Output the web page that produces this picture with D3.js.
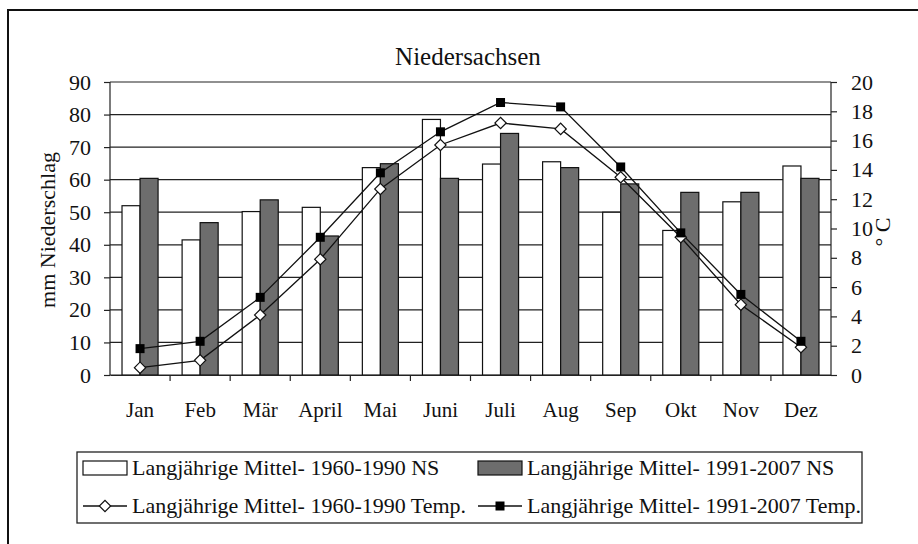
<!DOCTYPE html>
<html>
<head>
<meta charset="utf-8">
<script src="https://cdn.jsdelivr.net/npm/d3@7"></script>
<style>
  body { margin: 0; background: #fff; }
</style>
</head>
<body>
<script>
// months on the x axis
var months = ["Jan", "Feb", "Mär", "April", "Mai", "Juni", "Juli", "Aug", "Sep", "Okt", "Nov", "Dez"];

// precipitation (mm) per month
var rainOld = [52.0, 41.5, 50.2, 51.5, 63.7, 78.5, 64.8, 65.5, 50.0, 44.4, 53.2, 64.2];
var rainNew = [60.4, 46.8, 53.8, 42.7, 64.9, 60.4, 74.2, 63.7, 58.7, 56.1, 56.1, 60.4];

// temperature (°C) per month
var tempOld = [0.5, 1.0, 4.1, 7.9, 12.7, 15.7, 17.2, 16.8, 13.5, 9.4, 4.8, 1.9];
var tempNew = [1.8, 2.3, 5.3, 9.4, 13.8, 16.6, 18.6, 18.3, 14.2, 9.7, 5.5, 2.3];

// tick labels
var rainTicks = [0, 10, 20, 30, 40, 50, 60, 70, 80, 90];
var tempTicks = [0, 2, 4, 6, 8, 10, 12, 14, 16, 18, 20];

var legendText = ["Langjährige Mittel- 1960-1990 NS", "Langjährige Mittel- 1991-2007 NS",
                  "Langjährige Mittel- 1960-1990 Temp.", "Langjährige Mittel- 1991-2007 Temp."];

var w = 918, h = 544;
var plotL = 110, plotR = 831, plotT = 82, plotB = 375;
var grey = "#6d6d6d";
var serif = "'Liberation Serif', 'Times New Roman', 'DejaVu Serif', serif";

var svg = d3.select("body").append("svg")
            .attr("width", w)
            .attr("height", h)
            .attr("font-family", serif);

// outer frame
svg.append("rect")
   .attr("x", 8).attr("y", 10)
   .attr("width", 940).attr("height", 560)
   .attr("fill", "none").attr("stroke", "#111").attr("stroke-width", 2);

// scales
var x = d3.scaleBand().domain(months).range([plotL, plotR]);
var yRain = d3.scaleLinear().domain([0, 90]).range([plotB, plotT]);
var yTemp = d3.scaleLinear().domain([0, 20]).range([plotB, plotT]);

// gridlines
svg.append("g")
   .selectAll("line")
   .data(rainTicks)
   .enter()
   .append("line")
   .attr("x1", plotL).attr("x2", plotR)
   .attr("y1", function(d) { return yRain(d); })
   .attr("y2", function(d) { return yRain(d); })
   .attr("stroke", "#222").attr("stroke-width", 1.2);

// bars
var barW = x.bandwidth() * 0.3;
var bars = svg.append("g");
bars.selectAll(".old")
    .data(rainOld)
    .enter()
    .append("rect")
    .attr("x", function(d, i) { return x(months[i]) + x.bandwidth() / 2 - barW; })
    .attr("y", function(d) { return yRain(d); })
    .attr("width", barW)
    .attr("height", function(d) { return plotB - yRain(d); })
    .attr("fill", "#fff").attr("stroke", "#111").attr("stroke-width", 1.2);
bars.selectAll(".new")
    .data(rainNew)
    .enter()
    .append("rect")
    .attr("x", function(d, i) { return x(months[i]) + x.bandwidth() / 2; })
    .attr("y", function(d) { return yRain(d); })
    .attr("width", barW)
    .attr("height", function(d) { return plotB - yRain(d); })
    .attr("fill", grey).attr("stroke", "#111").attr("stroke-width", 1.2);

// axes
var axisL = svg.append("g")
   .attr("transform", "translate(" + plotL + ",0)")
   .call(d3.axisLeft(yRain).tickValues(rainTicks).tickSize(6).tickPadding(13));
var axisR = svg.append("g")
   .attr("transform", "translate(" + plotR + ",0)")
   .call(d3.axisRight(yTemp).tickValues(tempTicks).tickSize(6).tickPadding(14));
var axisB = svg.append("g")
   .attr("transform", "translate(0," + plotB + ")")
   .call(d3.axisBottom(x).tickSize(0).tickPadding(27));

[axisL, axisR, axisB].forEach(function(a) {
  a.attr("font-family", serif).attr("font-size", 22);
  a.selectAll("path").attr("stroke", "#222").attr("stroke-width", 1.2);
  a.selectAll("line").attr("stroke", "#222").attr("stroke-width", 1.2);
  a.selectAll("text").attr("fill", "#111");
});
axisB.attr("font-size", 21);
axisL.select(".domain").attr("d", "M0," + plotT + "V" + plotB);
axisR.select(".domain").attr("d", "M0," + plotT + "V" + plotB);

// category boundary ticks under the x axis
svg.append("g")
   .selectAll("line")
   .data(months.slice(1))
   .enter()
   .append("line")
   .attr("x1", function(d) { return x(d); })
   .attr("x2", function(d) { return x(d); })
   .attr("y1", plotB).attr("y2", plotB + 6)
   .attr("stroke", "#222").attr("stroke-width", 1.2);

// temperature lines
var line = function(vals) {
  return d3.line()
           .x(function(d, i) { return x(months[i]) + x.bandwidth() / 2; })
           .y(function(d) { return yTemp(d); })(vals);
};
svg.append("path").attr("d", line(tempOld))
   .attr("fill", "none").attr("stroke", "#111").attr("stroke-width", 1.3);
svg.append("path").attr("d", line(tempNew))
   .attr("fill", "none").attr("stroke", "#111").attr("stroke-width", 1.3);

// diamond = square turned 45 degrees
var diamond = d3.symbol().type(d3.symbolSquare).size(64);
svg.append("g")
   .selectAll("path")
   .data(tempOld)
   .enter()
   .append("path")
   .attr("d", diamond)
   .attr("transform", function(d, i) {
      return "translate(" + (x(months[i]) + x.bandwidth() / 2) + "," + yTemp(d) + ") rotate(45)";
   })
   .attr("fill", "#fff").attr("stroke", "#111").attr("stroke-width", 1.2);
svg.append("g")
   .selectAll("rect")
   .data(tempNew)
   .enter()
   .append("rect")
   .attr("x", function(d, i) { return x(months[i]) + x.bandwidth() / 2 - 4.5; })
   .attr("y", function(d) { return yTemp(d) - 4.5; })
   .attr("width", 9).attr("height", 9)
   .attr("fill", "#000");

// title and axis labels
svg.append("text")
   .attr("x", 468).attr("y", 65)
   .attr("text-anchor", "middle")
   .attr("font-size", 25)
   .attr("fill", "#111")
   .text("Niedersachsen");

svg.append("text")
   .attr("transform", "translate(55,230) rotate(-90)")
   .attr("text-anchor", "middle")
   .attr("font-size", 22)
   .attr("fill", "#111")
   .text("mm Niederschlag");

svg.append("text")
   .attr("transform", "translate(890,232) rotate(-90)")
   .attr("text-anchor", "middle")
   .attr("font-size", 22)
   .attr("fill", "#111")
   .text("° C");

// legend
var legend = svg.append("g");
legend.append("rect")
      .attr("x", 77).attr("y", 452)
      .attr("width", 785).attr("height", 71)
      .attr("fill", "#fff").attr("stroke", "#222").attr("stroke-width", 1.3);

var legX = [83, 478];
var legY = [468, 506];
for (var n = 0; n < legendText.length; n++) {
  var lx = legX[n % 2], ly = legY[Math.floor(n / 2)];
  if (n < 2) {
    legend.append("rect")
          .attr("x", lx).attr("y", ly - 7)
          .attr("width", 44).attr("height", 14)
          .attr("fill", n == 0 ? "#fff" : grey)
          .attr("stroke", "#111").attr("stroke-width", 1.2);
  } else {
    legend.append("line")
          .attr("x1", lx).attr("x2", lx + 44)
          .attr("y1", ly).attr("y2", ly)
          .attr("stroke", "#111").attr("stroke-width", 1.3);
    if (n == 2) {
      legend.append("path")
            .attr("d", diamond)
            .attr("transform", "translate(" + (lx + 22) + "," + ly + ") rotate(45)")
            .attr("fill", "#fff").attr("stroke", "#111").attr("stroke-width", 1.2);
    } else {
      legend.append("rect")
            .attr("x", lx + 17.5).attr("y", ly - 4.5)
            .attr("width", 9).attr("height", 9)
            .attr("fill", "#000");
    }
  }
  legend.append("text")
        .attr("x", lx + 49).attr("y", ly + 7)
        .attr("font-size", 22)
        .attr("fill", "#111")
        .text(legendText[n]);
}
</script>
</body>
</html>
